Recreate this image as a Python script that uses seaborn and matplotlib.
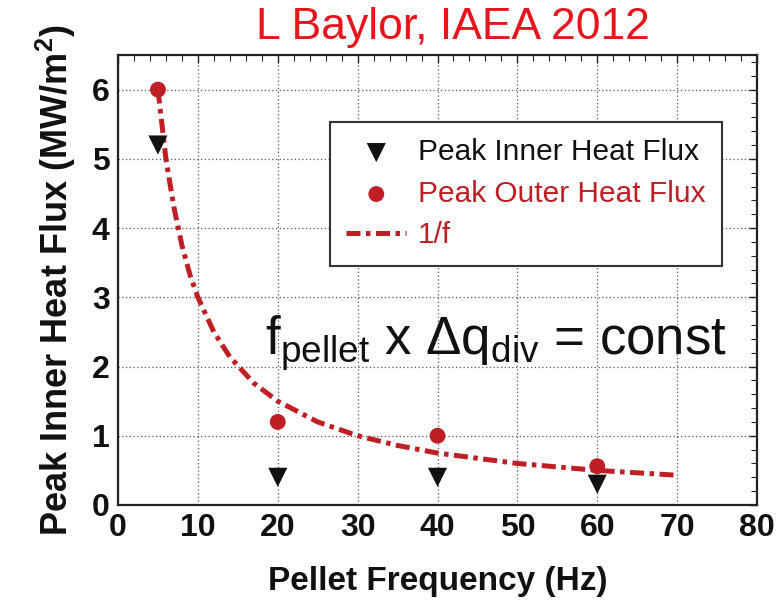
import matplotlib
matplotlib.use("Agg")
import matplotlib.pyplot as plt
import seaborn as sns
import pandas as pd
from matplotlib.ticker import MultipleLocator
from matplotlib import font_manager

# ---- data ----
freq_pts = [5, 20, 40, 60]
inner_flux = [5.2, 0.4, 0.4, 0.3]
outer_flux = [6.0, 1.2, 1.0, 0.56]
curve_f = [5, 6, 7, 8, 9, 10, 12, 14, 17, 20, 25, 30, 35, 40, 50, 60, 70]
curve_q = [6.0, 5.0, 4.3, 3.75, 3.33, 3.0, 2.5, 2.14, 1.76, 1.5, 1.2, 1.0, 0.86, 0.75, 0.6, 0.5, 0.43]
x_ticks = [0, 10, 20, 30, 40, 50, 60, 70, 80]
y_ticks = [0, 1, 2, 3, 4, 5, 6]

RED = "#bf1e24"

sns.set_theme(style="white")
names = {f.name for f in font_manager.fontManager.ttflist}
narrow = "Liberation Sans Narrow" if "Liberation Sans Narrow" in names else "Liberation Sans"
plt.rcParams["font.family"] = ["Liberation Sans", "DejaVu Sans"]
plt.rcParams["mathtext.fontset"] = "custom"
plt.rcParams["mathtext.rm"] = "Liberation Sans"
plt.rcParams["mathtext.it"] = "Liberation Sans"
plt.rcParams["mathtext.bf"] = "Liberation Sans:bold"

fig = plt.figure(figsize=(7.8, 6.16), dpi=100)
ax = fig.add_axes([118/780, 1-505/616, (757-118)/780, (505-55)/616])

df_pts = pd.DataFrame({"f": freq_pts, "inner": inner_flux, "outer": outer_flux})
df_curve = pd.DataFrame({"f": curve_f, "q": curve_q})

sns.lineplot(data=df_curve, x="f", y="q", ax=ax, color=RED, lw=3.6,
             dashes=False, label="1/f", zorder=3)
line = ax.get_lines()[-1]
line.set_dashes([2.8, 1.1, 0.9, 1.1])
sns.scatterplot(data=df_pts, x="f", y="inner", ax=ax, marker="v", s=190,
                color="#111111", edgecolor="none", label="Peak Inner Heat Flux", zorder=4)
sns.scatterplot(data=df_pts, x="f", y="outer", ax=ax, marker="o", s=130,
                color=RED, edgecolor="none", label="Peak Outer Heat Flux", zorder=4)

ax.set_xlim(0, 80)
ax.set_ylim(0, 6.5)
ax.set_xticks(x_ticks)
ax.set_yticks(y_ticks)
ax.xaxis.set_minor_locator(MultipleLocator(2))
ax.yaxis.set_minor_locator(MultipleLocator(0.2))
ax.tick_params(which="both", direction="in", top=True, right=True, colors="#222222")
ax.tick_params(which="major", length=6, width=1)
ax.tick_params(which="minor", length=4, width=0.8)
ax.tick_params(axis="both", which="major", labelsize=23, labelcolor="#111111", pad=6)
for lab in ax.get_xticklabels() + ax.get_yticklabels():
    lab.set_fontfamily(narrow)
    lab.set_fontweight("bold")
ax.grid(True, which="major", linestyle=(0, (1, 2)), color="#555555", linewidth=0.9)
for s in ax.spines.values():
    s.set_color("#222222")
    s.set_linewidth(1.6)

ax.set_xlabel("Pellet Frequency (Hz)", fontsize=24, fontweight="bold",
              family=narrow, color="#111111", labelpad=16)
ax.set_ylabel("Peak Inner Heat Flux (MW/m$^{\\mathbf{2}}$)", fontsize=26, fontweight="bold",
              family=narrow, color="#111111", labelpad=10)

handles, labels = ax.get_legend_handles_labels()
order = [labels.index("Peak Inner Heat Flux"), labels.index("Peak Outer Heat Flux"), labels.index("1/f")]
leg = ax.legend([handles[i] for i in order], [labels[i] for i in order],
                loc="upper left", bbox_to_anchor=((330-118)/639, 1-(122-55)/450),
                borderaxespad=0, fontsize=21.5,
                frameon=True, fancybox=False, edgecolor="#333333", framealpha=1,
                handlelength=2.0, handletextpad=0.4, borderpad=0.55, labelspacing=0.45)
leg.get_frame().set_linewidth(1.5)
for txt, c in zip(leg.get_texts(), ["#111111", RED, RED]):
    txt.set_color(c)

ax.text((265-118)/639, 1-(343-55)/450, r"f$_{\rm pellet}$ x $\Delta$q$_{\rm div}$ = const",
        transform=ax.transAxes, fontsize=38, color="#111111", ha="left", va="center")

fig.text(453/780, 1-28/616, "L Baylor, IAEA 2012", color="#e8141c", fontsize=32,
         ha="center", va="center")

fig.savefig("out.png", dpi=100)
